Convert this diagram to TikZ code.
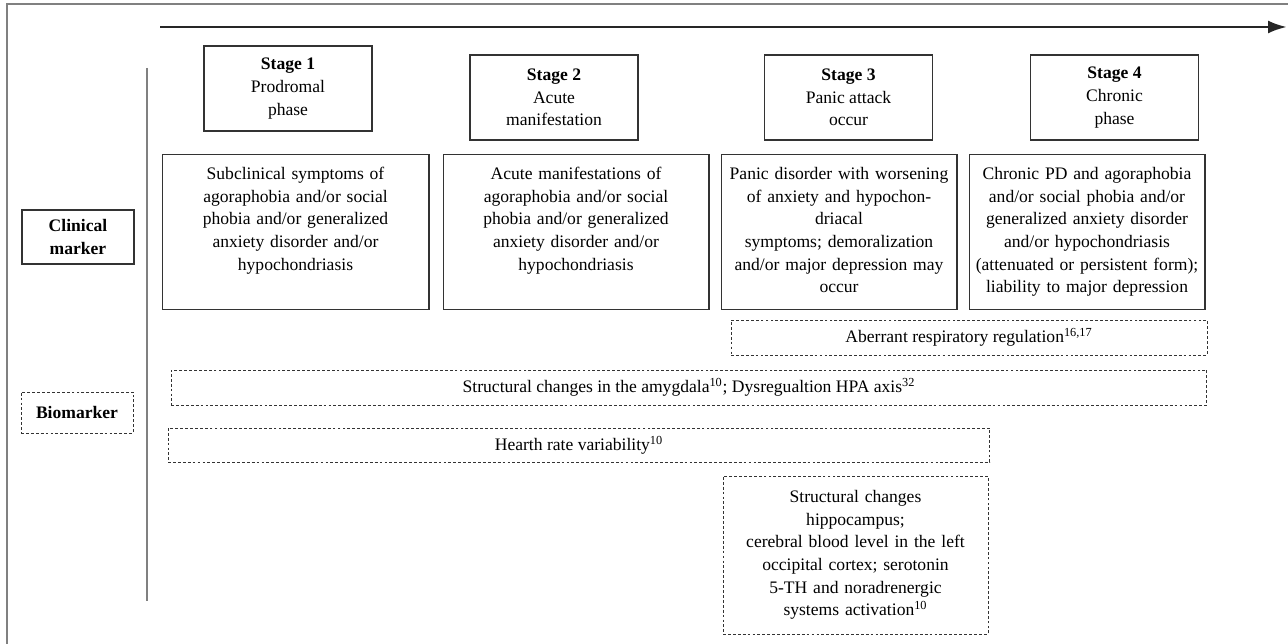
\documentclass[tikz,border=0pt]{standalone}
\usepackage{fontspec}
\setmainfont{Liberation Serif}
\usetikzlibrary{arrows.meta,positioning}
\tikzset{
  stagebox/.style={rectangle,draw=black!80,line width=0.6pt,align=center,
    minimum width=3.36cm,minimum height=1.70cm,inner sep=0pt},
  clinbox/.style={rectangle,draw=black!80,line width=0.6pt,align=center,
    anchor=north,inner sep=0pt,text height=0.50cm,text depth=2.60cm},
  biobox/.style={rectangle,draw=black!80,line width=0.5pt,
    dash pattern=on 1.6pt off 1.2pt,align=center,inner sep=0pt},
  markbox/.style={rectangle,draw=black!80,line width=0.6pt,align=center,
    font=\fontsize{10}{12.9}\selectfont\bfseries,inner sep=0pt,minimum width=2.24cm},
  frameline/.style={draw=black!50,line width=0.8pt},
  timeline/.style={-{Latex[length=0.38cm,width=0.26cm]},line width=1.6pt,draw=black!85}
}
\begin{document}
\begin{tikzpicture}[x=0.02cm,y=-0.02cm,font=\fontsize{10}{12.9}\selectfont]
  \useasboundingbox (0,0) rectangle (1288,644);
  % frame and axes
  \coordinate (tl) at (7,4);
  \coordinate (tr) at (1288,4);
  \coordinate (bl) at (7,644);
  \draw[frameline] (tr) -- (tl) -- (bl);
  \coordinate (timestart) at (160,27);
  \coordinate (timeend) at (1287,27);
  \draw[timeline] (timestart) -- (timeend);
  \coordinate (divtop) at (147,68);
  \coordinate (divbot) at (147,601);
  \draw[frameline] (divtop) -- (divbot);

  % stages
  \node[stagebox] (st1) at (288,88.5) {\textbf{Stage 1}\\ Prodromal\\ phase};
  \node[stagebox] (st2) at (554,97.5) {\textbf{Stage 2}\\ Acute\\ manifestation};
  \node[stagebox] (st3) at (848.5,97.5) {\textbf{Stage 3}\\ Panic attack\\ occur};
  \node[stagebox] (st4) at (1114.5,97.5) {\textbf{Stage 4}\\ Chronic\\ phase};

  % clinical markers
  \node[markbox, minimum height=1.08cm] (clin) at (78,237) {Clinical\\ marker};
  \node[clinbox, text width=5.34cm] (cl1) at (295.5,154)
    {Subclinical symptoms of\\ agoraphobia and/or social\\ phobia and/or generalized\\
     anxiety disorder and/or\\ hypochondriasis};
  \node[clinbox, text width=5.32cm] (cl2) at (576,154)
    {Acute manifestations of\\ agoraphobia and/or social\\ phobia and/or generalized\\
     anxiety disorder and/or\\ hypochondriasis};
  \node[clinbox, text width=4.72cm] (cl3) at (839,154)
    {Panic disorder with worsening\\ of anxiety and hypochon-\\ driacal\\
     symptoms; demoralization\\ and/or major depression may\\ occur};
  \node[clinbox, text width=4.72cm] (cl4) at (1087,154)
    {Chronic PD and agoraphobia\\ and/or social phobia and/or\\ generalized anxiety disorder\\
     and/or hypochondriasis\\ (attenuated or persistent form);\\ liability to major depression};

  % biomarkers
  \node[markbox, dash pattern=on 1.6pt off 1.2pt, line width=0.5pt, minimum height=0.82cm]
    (bio) at (77,412.5) {Biomarker};
  \node[biobox, minimum width=9.52cm, minimum height=0.70cm] (resp) at (969,337.5)
    {Aberrant respiratory regulation\textsuperscript{16,17}};
  \node[biobox, minimum width=20.72cm, minimum height=0.70cm] (amyg) at (689,387.5)
    {Structural changes in the amygdala\textsuperscript{10}; Dysregualtion HPA axis\textsuperscript{32}};
  \node[biobox, minimum width=16.44cm, minimum height=0.68cm] (hrv) at (579,445)
    {Hearth rate variability\textsuperscript{10}};
  \node[biobox, text width=5.30cm, minimum height=3.16cm] (hippo) at (855.5,555)
    {Structural changes\\ hippocampus;\\ cerebral blood level in the left\\
     occipital cortex; serotonin\\ 5-TH and noradrenergic\\ systems activation\textsuperscript{10}};
\end{tikzpicture}
\end{document}
